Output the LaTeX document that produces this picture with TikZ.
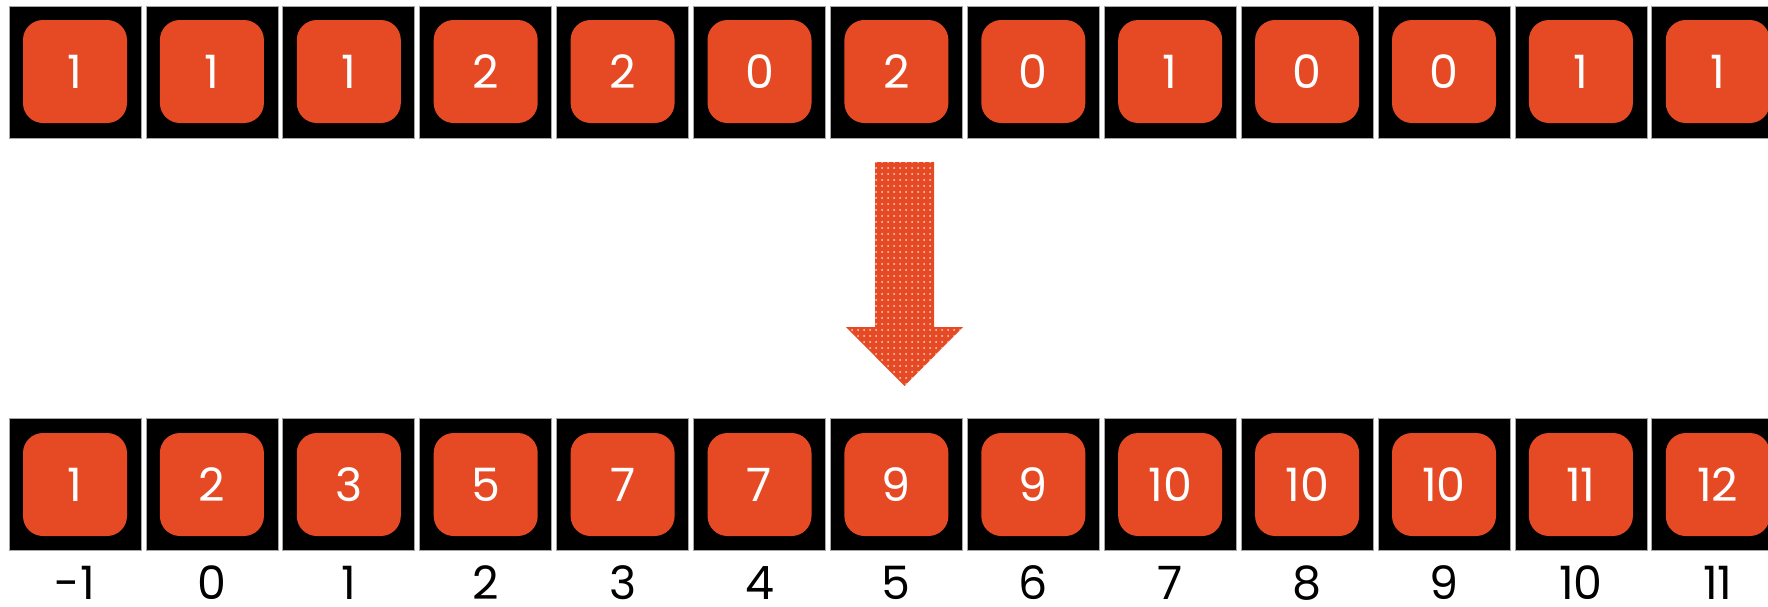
\documentclass[tikz,border=0pt]{standalone}
\usepackage{fontspec}
\setmainfont{Poppins}
\usepackage{xcolor}
\usepackage{tikz}
\usetikzlibrary{positioning,patterns,calc}

\definecolor{tileorange}{RGB}{230,74,37}

\begin{document}
\begin{tikzpicture}[
      x=0.5pt, y=-0.5pt,
      cell/.style={fill=black, draw=black!35, line width=0.4pt, minimum width=66pt, minimum height=66pt, inner sep=0pt},
      tile/.style={fill=tileorange, rounded corners=10pt, minimum width=52pt, minimum height=51.5pt, inner sep=0pt,
        text=white, font=\fontsize{23}{23}\selectfont},
      idx/.style={anchor=base, inner sep=0pt, text=black, font=\fontsize{23}{23}\selectfont}]
    \useasboundingbox (0,0) rectangle (1768,606);
    \clip (0,0) rectangle (1768,606);
    % input row
    \foreach \v [count=\i from 0] in {1,1,1,2,2,0,2,0,1,0,0,1,1} {
      \node[cell] (t\i) at (75+136.9*\i, 72) {};
      \node[tile] (tv\i) at ($(t\i)+(0,-0.5)$) {\v};
    }
    % prefix row
    \foreach \v [count=\i from 0] in {1,2,3,5,7,7,9,9,10,10,10,11,12} {
      \node[cell] (b\i) at (75+136.9*\i, 484.5) {};
      \node[tile] (bv\i) at (b\i) {\v};
    }
    % indices
    \foreach \i [evaluate=\i as \n using int(\i-1)] in {0,...,12}
      \node[idx] (l\i) at ($(b\i.south)+(0,49)$) {\n};
    % arrow between rows
    \path[fill=tileorange] (875,162) -- (934,162) -- (934,327) -- (963,327) -- (904.5,386)
      -- (846,327) -- (875,327) -- cycle;
    \path[pattern=dots, pattern color=white!75!tileorange] (875,162) -- (934,162) -- (934,327) -- (963,327)
      -- (904.5,386) -- (846,327) -- (875,327) -- cycle;
  \end{tikzpicture}
\end{document}
